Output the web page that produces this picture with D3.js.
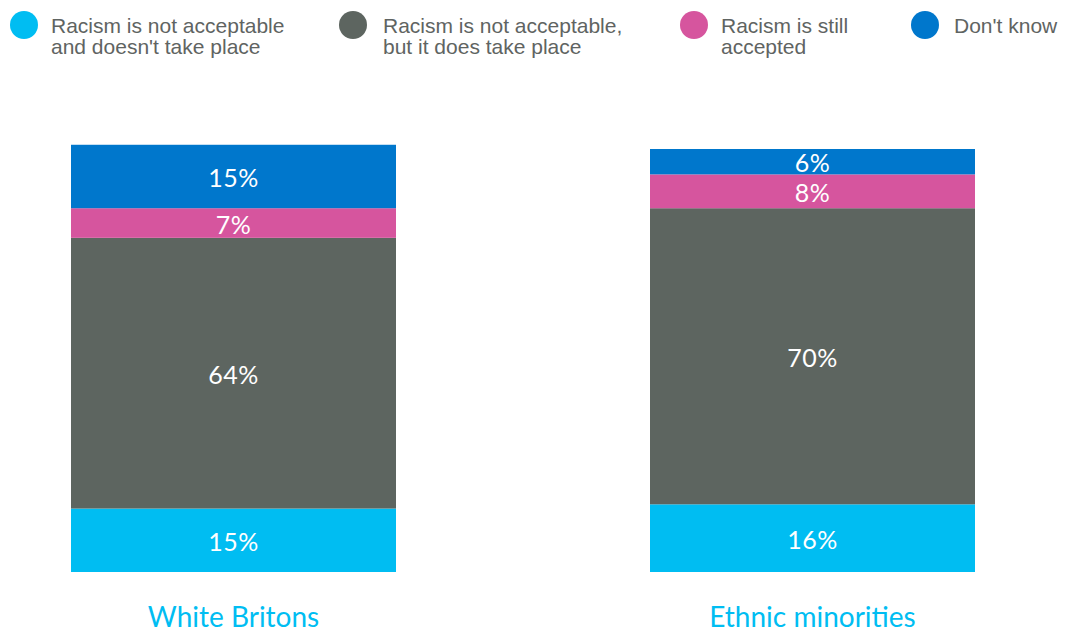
<!DOCTYPE html>
<html>
<head>
<meta charset="utf-8">
<script src="https://cdn.jsdelivr.net/npm/d3@7"></script>
<style>
  html, body { margin: 0; padding: 0; background: #fff; }
  svg { display: block; }
</style>
</head>
<body>
<svg id="chart" width="1069" height="634"></svg>
<script>
// Groups shown as stacked columns
const groups = ["White Britons", "Ethnic minorities"];

// Answer categories, bottom to top of each column
const seriesKeys = ["notTakePlace", "doesTakePlace", "stillAccepted", "dontKnow"];
const seriesNames = [
  ["Racism is not acceptable", "and doesn't take place"],
  ["Racism is not acceptable,", "but it does take place"],
  ["Racism is still", "accepted"],
  ["Don't know"]
];
const seriesColors = ["#00bdf2", "#5d6560", "#d6559e", "#0077cc"];

// Percentages per group, in seriesKeys order
const notTakePlace  = [15, 16];
const doesTakePlace = [64, 70];
const stillAccepted = [7, 8];
const dontKnow      = [15, 6];

const rows = groups.map((g, i) => ({
  group: g,
  notTakePlace: notTakePlace[i],
  doesTakePlace: doesTakePlace[i],
  stillAccepted: stillAccepted[i],
  dontKnow: dontKnow[i]
}));

const svg = d3.select("#chart");

const x = d3.scaleBand()
  .domain(groups)
  .range([71, 975])
  .paddingInner(0.4387)
  .paddingOuter(0);

const y = d3.scaleLinear()
  .domain([0, 100])
  .range([572, 149]);

const color = d3.scaleOrdinal().domain(seriesKeys).range(seriesColors);

const stacked = d3.stack().keys(seriesKeys)(rows);

// Column segments
const layer = svg.append("g").selectAll("g")
  .data(stacked)
  .join("g")
  .attr("fill", d => color(d.key));

layer.selectAll("rect")
  .data(d => d.map(v => ({ key: d.key, v })))
  .join("rect")
  .attr("x", d => x(d.v.data.group))
  .attr("width", x.bandwidth())
  .attr("y", d => y(d.v[1]))
  .attr("height", d => y(d.v[0]) - y(d.v[1]));

// Segment value labels
layer.selectAll("text")
  .data(d => d.map(v => ({ key: d.key, v })))
  .join("text")
  .attr("x", d => x(d.v.data.group) + x.bandwidth() / 2)
  .attr("y", d => (y(d.v[0]) + y(d.v[1])) / 2)
  .attr("dy", "0.42em")
  .attr("text-anchor", "middle")
  .attr("fill", "#ffffff")
  .attr("font-family", "Lato, 'Open Sans', sans-serif")
  .attr("font-size", 25)
  .attr("letter-spacing", 0.5)
  .text(d => (d.v[1] - d.v[0]) + "%");

// Group labels below the columns
svg.append("g").selectAll("text")
  .data(groups)
  .join("text")
  .attr("x", d => x(d) + x.bandwidth() / 2)
  .attr("y", 627)
  .attr("text-anchor", "middle")
  .attr("fill", "#00bdf2")
  .attr("font-family", "Lato, 'Open Sans', sans-serif")
  .attr("font-size", 28)
  .text(d => d);

// Legend across the top
const legendX = [24, 353, 694, 925];
const legendTextX = [51, 383, 721, 954];
const legend = svg.append("g").selectAll("g")
  .data(seriesKeys)
  .join("g");

legend.append("circle")
  .attr("cx", (d, i) => legendX[i])
  .attr("cy", 25)
  .attr("r", 14)
  .attr("fill", d => color(d));

legend.append("text")
  .attr("y", 33)
  .attr("fill", "#5f6462")
  .attr("font-family", "'Liberation Sans', Arial, sans-serif")
  .attr("font-size", 21)
  .each(function (d, i) {
    d3.select(this).selectAll("tspan")
      .data(seriesNames[i])
      .join("tspan")
      .attr("x", legendTextX[i])
      .attr("dy", (t, j) => j === 0 ? 0 : 21)
      .text(t => t);
  });
</script>
</body>
</html>
